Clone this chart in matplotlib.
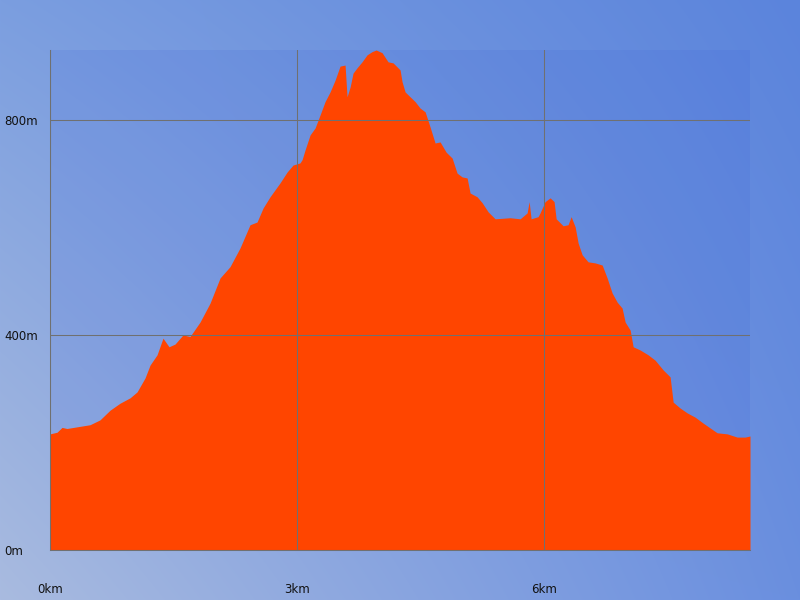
import numpy as np
import matplotlib
matplotlib.use("Agg")
import matplotlib.pyplot as plt

# distance (km) and elevation (m)
distance_km = [0.00, 0.085, 0.146, 0.206, 0.486, 0.607, 0.729, 0.850, 0.972, 1.057,
               1.154, 1.215, 1.300, 1.372, 1.445, 1.518, 1.615, 1.700, 1.822, 1.943,
               2.065, 2.186, 2.308, 2.429, 2.514, 2.587, 2.672, 2.794, 2.879, 2.951,
               3.036, 3.061, 3.097, 3.158, 3.219, 3.279, 3.340, 3.401, 3.462, 3.522,
               3.583, 3.607, 3.644, 3.680, 3.729, 3.789, 3.850, 3.911, 3.960, 4.032,
               4.105, 4.166, 4.251, 4.275, 4.312, 4.372, 4.433, 4.494, 4.555, 4.615,
               4.676, 4.737, 4.810, 4.883, 4.943, 5.004, 5.065, 5.101, 5.186, 5.247,
               5.320, 5.405, 5.587, 5.709, 5.794, 5.818, 5.842, 5.927, 5.951, 6.012,
               6.073, 6.121, 6.146, 6.231, 6.291, 6.328, 6.377, 6.413, 6.462, 6.534,
               6.619, 6.705, 6.765, 6.826, 6.887, 6.947, 6.984, 7.045, 7.081, 7.166,
               7.263, 7.348, 7.445, 7.530, 7.567, 7.652, 7.737, 7.834, 7.931, 8.016,
               8.101, 8.223, 8.344, 8.441, 8.500]
elevation_m = [216, 219, 228, 226, 233, 242, 260, 273, 283, 294,
               320, 344, 363, 394, 378, 383, 400, 397, 424, 459,
               506, 527, 562, 605, 610, 636, 657, 683, 703, 716,
               720, 726, 744, 772, 785, 809, 834, 852, 874, 900,
               902, 843, 861, 887, 897, 908, 921, 927, 930, 925,
               908, 906, 893, 871, 852, 843, 834, 822, 815, 787,
               757, 759, 740, 729, 701, 694, 692, 664, 657, 646,
               629, 616, 618, 616, 627, 648, 616, 620, 627, 648,
               655, 648, 616, 603, 605, 620, 601, 571, 549, 536,
               534, 530, 506, 478, 461, 450, 424, 409, 378, 372,
               363, 353, 335, 322, 275, 264, 255, 247, 236, 227,
               218, 216, 210, 210, 212]

x_ticks = [0, 3, 6]
x_tick_labels = ["0km", "3km", "6km"]
y_ticks = [0, 400, 800]
y_tick_labels = ["0m", "400m", "800m"]

W, H = 800, 600
fig = plt.figure(figsize=(8, 6), dpi=100)

# background gradient (bilinear between corner colours)
tl = np.array([123, 158, 224]) / 255
tr = np.array([91, 132, 220]) / 255
bl = np.array([169, 187, 224]) / 255
br = np.array([106, 143, 223]) / 255
u = np.linspace(0, 1, W)[None, :, None]
v = np.linspace(0, 1, H)[:, None, None]
img = (1 - v) * ((1 - u) * tl + u * tr) + v * ((1 - u) * bl + u * br)
bg = fig.add_axes([0, 0, 1, 1], zorder=-10)
bg.imshow(img, aspect="auto", extent=[0, 1, 0, 1], origin="upper")
bg.axis("off")

ax = fig.add_axes([50 / W, 50 / H, 700 / W, 500 / H])
ax.set_facecolor((60 / 255, 100 / 255, 220 / 255, 0.15))

ax.fill_between(distance_km, elevation_m, 0, color="#FF4500",
                linewidth=0, zorder=1)

ax.set_xlim(0, 8.5)
ax.set_ylim(0, 930)
ax.set_xticks(x_ticks)
ax.set_xticklabels(x_tick_labels)
ax.set_yticks(y_ticks)
ax.set_yticklabels(y_tick_labels)

ax.grid(True, color="#707070", linewidth=0.75, zorder=3)
ax.set_axisbelow(False)
for s in ["top", "right"]:
    ax.spines[s].set_visible(False)
for s in ["left", "bottom"]:
    ax.spines[s].set_color("#707070")
    ax.spines[s].set_linewidth(0.75)
    ax.spines[s].set_zorder(4)

ax.tick_params(axis="both", length=0, labelsize=8.5, labelcolor="#111111")
ax.tick_params(axis="y", pad=33)
ax.tick_params(axis="x", pad=24)
for lab in ax.get_yticklabels():
    lab.set_horizontalalignment("left")

fig.savefig("out.png", dpi=100)
